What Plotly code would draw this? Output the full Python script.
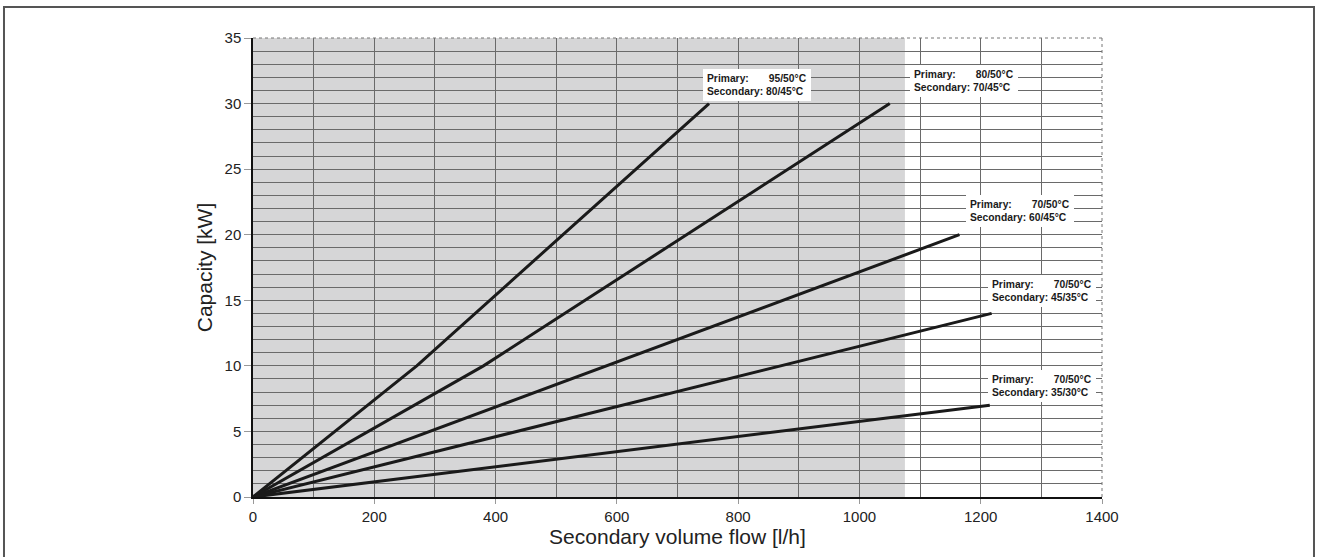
import plotly.graph_objects as go

# Data
series_names = ["95/50 - 80/45", "80/50 - 70/45", "70/50 - 60/45", "70/50 - 45/35", "70/50 - 35/30"]
flow_95_80 = [0, 270, 752]
cap_95_80 = [0, 10, 30]
flow_80_70 = [0, 380, 1050]
cap_80_70 = [0, 10, 30]
flow_70_60 = [0, 1165]
cap_70_60 = [0, 20]
flow_70_45 = [0, 1218]
cap_70_45 = [0, 14]
flow_70_35 = [0, 1215]
cap_70_35 = [0, 7]

label_texts = [
    "Primary:\u00a0\u00a0\u00a0\u00a0\u00a0\u00a0\u00a095/50°C<br>Secondary: 80/45°C",
    "Primary:\u00a0\u00a0\u00a0\u00a0\u00a0\u00a0\u00a080/50°C<br>Secondary: 70/45°C",
    "Primary:\u00a0\u00a0\u00a0\u00a0\u00a0\u00a0\u00a070/50°C<br>Secondary: 60/45°C",
    "Primary:\u00a0\u00a0\u00a0\u00a0\u00a0\u00a0\u00a070/50°C<br>Secondary: 45/35°C",
    "Primary:\u00a0\u00a0\u00a0\u00a0\u00a0\u00a0\u00a070/50°C<br>Secondary: 35/30°C",
]
label_x = [742, 1083, 1176, 1212, 1212]
label_y = [31.4, 31.7, 21.8, 15.7, 8.5]

shaded_limit = 1075
x_ticks = [0, 200, 400, 600, 800, 1000, 1200, 1400]
y_ticks = [0, 5, 10, 15, 20, 25, 30, 35]

flows = [flow_95_80, flow_80_70, flow_70_60, flow_70_45, flow_70_35]
caps = [cap_95_80, cap_80_70, cap_70_60, cap_70_45, cap_70_35]

fig = go.Figure()
for name, fx, cy in zip(series_names, flows, caps):
    fig.add_trace(go.Scatter(x=fx, y=cy, mode="lines", name=name,
                             line=dict(color="#1a1a1a", width=3), showlegend=False))

for t, lx, ly in zip(label_texts, label_x, label_y):
    fig.add_annotation(x=lx, y=ly, xref="x", yref="y", text=t, showarrow=False,
                       xanchor="left", yanchor="middle", align="left",
                       bgcolor="white", borderpad=4, borderwidth=0,
                       font=dict(family="Liberation Sans, Arial", size=10.3, color="#1a1a1a",
                                 weight="bold"))

# shaded region
fig.add_shape(type="rect", xref="x", yref="y", x0=0, x1=shaded_limit, y0=0, y1=35,
              fillcolor="#d6d6d7", line=dict(width=0), layer="below")
# dotted top/right border
fig.add_shape(type="line", xref="paper", yref="paper", x0=0, x1=1, y0=1, y1=1,
              line=dict(color="#777777", width=1, dash="dot"))
fig.add_shape(type="line", xref="paper", yref="paper", x0=1, x1=1, y0=0, y1=1,
              line=dict(color="#777777", width=1, dash="dot"))
# outer frame
fig.add_shape(type="rect", xref="paper", yref="paper", x0=-0.2933, x1=1.2497,
              y0=-0.3, y1=1.0675, line=dict(color="#555555", width=2))

grid_col = "#6a6a6a"
fig.update_xaxes(range=[0, 1400], tickvals=x_ticks, showgrid=True, gridcolor=grid_col,
                 gridwidth=1, minor=dict(dtick=100, showgrid=True, gridcolor=grid_col, gridwidth=1),
                 showline=True, linecolor="#111111", linewidth=1.5, ticks="outside",
                 ticklen=5, tickcolor="#999999", zeroline=False,
                 tickfont=dict(size=15, color="#222222"),
                 title=dict(text="Secondary volume flow [l/h]", font=dict(size=21, color="#222222"),
                            standoff=3))
fig.update_yaxes(range=[0, 35], tickvals=y_ticks, showgrid=True, gridcolor=grid_col,
                 gridwidth=1, minor=dict(dtick=1, showgrid=True, gridcolor=grid_col, gridwidth=1),
                 showline=True, linecolor="#111111", linewidth=1.5, ticks="outside",
                 ticklen=7, tickcolor="#999999", zeroline=False,
                 tickfont=dict(size=15, color="#222222"),
                 title=dict(text="Capacity [kW]", font=dict(size=21, color="#222222"),
                            standoff=6))

fig.update_layout(width=1325, height=557, margin=dict(l=253, r=223, t=38, b=60),
                  plot_bgcolor="white", paper_bgcolor="white",
                  font=dict(family="Liberation Sans, Arial, sans-serif"))

fig.write_html("out.html", config={"displayModeBar": False},
               post_script="document.body.style.margin='0';document.body.style.overflow='hidden';")
